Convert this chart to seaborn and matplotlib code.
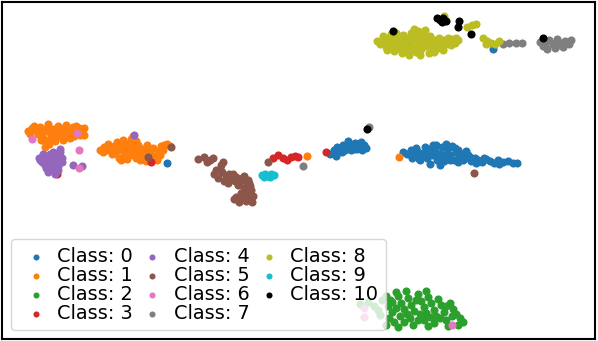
import matplotlib
matplotlib.use("Agg")
import matplotlib.pyplot as plt
import pandas as pd
import seaborn as sns

# 2-D embedding coordinates per class (dim2 grows downwards)
class_0 = [(493, 49), (167, 163),
           (330, 154), (334, 150), (337, 147), (340, 148), (343, 145), (346, 147), (349, 144),
           (352, 146), (355, 143), (358, 145), (361, 142), (364, 145), (366, 148), (345, 150),
           (351, 150), (357, 149), (362, 150), (338, 152), (348, 141), (354, 149), (360, 147),
           (342, 152), (336, 156),
           (403, 152), (407, 154), (411, 150), (414, 155), (418, 152), (421, 156), (424, 153),
           (427, 158), (429, 149), (432, 155), (435, 151), (437, 160), (440, 154), (442, 147),
           (445, 157), (447, 151), (450, 155), (452, 146), (454, 160), (456, 152), (459, 157),
           (462, 154), (465, 158), (468, 155), (471, 161), (475, 158), (478, 160), (482, 162),
           (486, 159), (490, 161), (494, 163), (498, 160), (503, 162), (508, 161), (513, 163),
           (517, 163), (433, 145), (444, 161), (455, 148), (412, 158), (425, 147), (466, 151),
           (416, 148), (419, 159), (430, 152), (438, 157), (448, 148), (450, 160), (458, 150),
           (463, 160), (470, 157), (476, 163), (484, 158), (499, 164), (436, 145), (446, 144),
           (430, 164), (440, 165), (420, 160), (458, 162)]
class_1 = [(28, 131), (32, 128), (36, 130), (40, 127), (44, 131), (47, 128), (50, 133), (53, 129),
           (57, 132), (60, 128), (64, 131), (68, 129), (71, 134), (75, 130), (79, 128), (82, 131),
           (84, 128), (42, 136), (46, 140), (49, 144), (45, 147), (52, 138), (56, 137), (62, 136),
           (66, 137), (70, 138), (38, 134), (74, 136), (80, 135), (60, 133), (55, 141),
           (30, 134), (34, 126), (48, 124), (58, 126), (66, 125), (73, 127), (78, 131), (84, 135),
           (41, 140), (50, 140), (46, 143), (63, 140), (68, 133), (76, 126),
           (100, 150), (104, 147), (108, 144), (111, 149), (114, 146), (117, 142), (120, 147),
           (123, 140), (126, 144), (128, 150), (131, 139), (134, 146), (136, 141), (130, 155),
           (124, 155), (115, 153), (119, 158), (137, 152), (140, 148), (142, 157), (145, 150),
           (147, 145), (150, 153), (153, 148), (155, 157), (158, 151), (161, 146), (164, 145),
           (167, 144), (170, 146), (136, 158), (127, 159), (112, 154), (140, 160), (157, 160),
           (146, 161), (133, 136), (103, 152), (106, 150), (118, 150), (122, 144), (125, 151),
           (129, 145), (132, 150), (138, 145), (143, 153), (148, 150), (152, 156), (160, 155),
           (163, 150), (134, 154), (121, 160), (116, 146), (109, 148),
           (399, 157), (307, 156)]
class_2 = [(360, 304), (368, 302), (374, 306), (378, 310), (386, 296), (390, 300), (388, 306),
           (392, 312), (389, 318), (394, 322), (398, 296), (401, 303), (404, 309), (400, 316),
           (404, 322), (408, 298), (411, 305), (414, 311), (410, 318), (413, 325), (418, 294),
           (421, 301), (424, 307), (420, 314), (424, 320), (428, 297), (431, 303), (434, 310),
           (430, 317), (434, 323), (438, 299), (441, 305), (444, 312), (440, 318), (446, 320),
           (450, 303), (453, 309), (456, 314), (460, 318), (463, 322), (448, 326), (396, 292),
           (406, 291), (426, 291), (386, 325), (380, 315), (458, 325), (396, 308), (407, 314),
           (416, 300), (426, 313), (436, 316), (446, 306), (452, 316), (418, 320), (428, 326),
           (398, 327), (392, 302), (382, 300)]
class_3 = [(57, 174), (151, 162), (273, 158), (278, 155), (283, 158), (287, 160), (291, 157),
           (295, 156), (298, 157), (326, 152)]
class_4 = [(40, 160), (44, 157), (47, 162), (50, 154), (52, 159), (55, 156), (57, 163), (60, 152),
           (62, 158), (45, 165), (50, 167), (54, 170), (48, 172), (55, 174), (58, 166), (42, 162),
           (53, 163), (60, 149), (43, 154), (48, 158), (53, 152), (57, 158), (46, 168), (51, 162),
           (58, 170), (62, 162), (39, 158), (73, 165), (82, 166), (134, 135)]
class_5 = [(171, 147), (148, 157), (474, 173), (198, 159), (204, 157), (210, 160), (213, 158),
           (223, 162), (221, 165), (268, 162), (214, 174), (218, 178), (222, 172), (226, 176),
           (230, 179), (233, 174), (236, 177), (240, 181), (244, 176), (248, 180), (228, 183),
           (238, 185), (244, 188), (247, 184), (250, 186), (246, 192), (240, 196), (238, 200),
           (242, 199), (246, 201), (250, 199), (253, 196), (244, 195), (236, 197), (216, 170),
           (224, 181), (220, 169), (229, 174), (235, 181), (242, 178), (249, 183), (251, 190),
           (248, 197), (241, 193), (234, 199), (239, 202), (252, 202), (207, 162)]
class_6 = [(32, 139), (77, 133), (79, 150), (79, 168), (452, 325), (364, 308), (364, 317)]
class_7 = [(503, 44), (509, 43), (516, 43), (522, 43), (540, 42), (545, 45), (549, 40), (553, 44),
           (557, 39), (561, 43), (565, 41), (569, 44), (547, 49), (555, 48), (563, 47), (571, 40),
           (543, 46), (558, 45), (303, 166), (369, 127)]
class_8 = [(377, 41), (382, 40), (385, 43), (388, 38), (390, 45), (392, 41), (395, 37), (397, 44),
           (399, 48), (401, 40), (403, 35), (404, 45), (406, 50), (408, 38), (410, 43), (411, 33),
           (413, 47), (415, 39), (416, 52), (418, 36), (419, 44), (421, 49), (423, 41), (424, 34),
           (426, 46), (428, 38), (429, 53), (431, 43), (433, 48), (435, 40), (437, 45), (440, 42),
           (444, 40), (448, 38), (452, 39), (456, 38), (386, 47), (394, 51), (402, 53), (409, 55),
           (420, 55), (396, 33), (414, 29), (425, 30), (380, 44), (434, 52), (442, 46),
           (383, 36), (387, 50), (391, 34), (398, 40), (400, 44), (405, 42), (407, 47), (412, 40),
           (417, 48), (422, 38), (427, 43), (430, 36), (436, 49), (439, 38), (443, 50), (447, 44),
           (451, 45), (455, 43), (458, 40), (395, 47), (410, 51), (418, 31),
           (444, 16), (467, 27), (472, 25), (476, 24), (483, 38), (487, 41), (491, 43), (495, 44),
           (499, 41), (486, 44)]
class_9 = [(262, 175), (265, 174), (268, 176), (271, 174), (274, 175), (264, 177), (270, 177)]
class_10 = [(393, 31), (437, 18), (440, 20), (443, 18), (446, 21), (442, 22), (459, 21), (458, 27),
            (471, 34), (543, 38), (367, 129)]

classes = [class_0, class_1, class_2, class_3, class_4, class_5,
           class_6, class_7, class_8, class_9, class_10]
labels = [f"Class: {i}" for i in range(len(classes))]
palette = sns.color_palette("tab10") + ["black"]

rows = []
for label, pts in zip(labels, classes):
    for x, y in pts:
        rows.append({"dim1": x, "dim2": y, "label": label})
df = pd.DataFrame(rows)

fig = plt.figure(figsize=(5.98, 3.41), dpi=100)
ax = fig.add_axes([2 / 598, 2 / 341, 593 / 598, 337 / 341])

for label, color in zip(labels, palette):
    sub = df[df["label"] == label]
    sns.scatterplot(data=sub, x="dim1", y="dim2", color=color, s=34,
                    linewidth=0, label=label, ax=ax)

ax.set_xlim(2, 595)
ax.set_ylim(339, 2)
ax.set_xticks([])
ax.set_yticks([])
ax.set_xlabel("")
ax.set_ylabel("")
for sp in ax.spines.values():
    sp.set_linewidth(1.5)

ax.legend(loc="lower left", ncol=3, fontsize=13.9, labelspacing=0.0,
          handlelength=1.8, handletextpad=0.2, columnspacing=0.12,
          markerscale=0.75, borderaxespad=0.45)

fig.savefig("out.png", dpi=100)
